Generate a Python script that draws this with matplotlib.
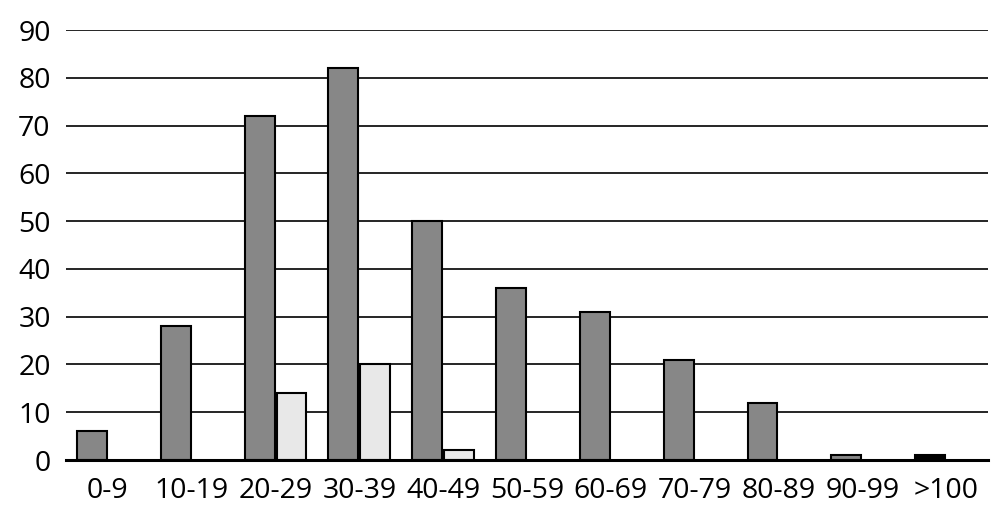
import matplotlib.pyplot as plt
import numpy as np

plt.rcParams['font.family'] = ['Open Sans', 'DejaVu Sans']

categories = ['0-9', '10-19', '20-29', '30-39', '40-49', '50-59',
              '60-69', '70-79', '80-89', '90-99', '>100']
series_a = [6, 28, 72, 82, 50, 36, 31, 21, 12, 1, 1]
series_b = [0, 0, 14, 20, 2, 0, 0, 0, 0, 0, 0]
colors_a = ['#878787'] * 10 + ['#000000']

x = np.arange(len(categories))
w = 0.357
off = 0.19

fig = plt.figure(figsize=(10.06, 5.11), dpi=100)
ax = fig.add_axes([66 / 1006, 51 / 511, 922 / 1006, 430 / 511])

ax.bar(x - off, series_a, width=w, color=colors_a, edgecolor='black', linewidth=1.5, zorder=3)
mask = np.array(series_b) > 0
ax.bar(x[mask] + off, np.array(series_b)[mask], width=w, color='#e8e8e8',
       edgecolor='black', linewidth=1.5, zorder=3)

ax.set_xlim(-0.5, 10.5)
ax.set_ylim(0, 90)
ax.set_yticks(range(0, 91, 10))
ax.set_xticks(x)
ax.set_xticklabels(categories)
ax.yaxis.grid(True, color='black', linewidth=1.2, zorder=0)
ax.set_axisbelow(True)
for s in ['top', 'right', 'left']:
    ax.spines[s].set_visible(False)
ax.spines['bottom'].set_linewidth(2.2)
ax.spines['bottom'].set_zorder(4)
ax.tick_params(axis='both', length=0, labelsize=20.5, pad=12)
ax.tick_params(axis='y', pad=11)

fig.savefig('out.png', dpi=100)
